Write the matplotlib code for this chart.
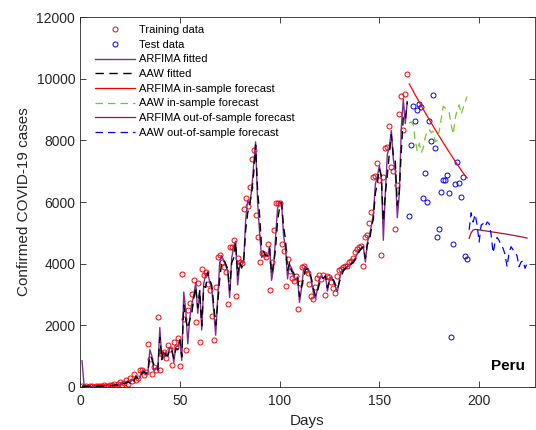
import numpy as np
import matplotlib
matplotlib.use("Agg")
import matplotlib.pyplot as plt

plt.rcParams['font.family'] = ['Liberation Sans', 'DejaVu Sans']

# training data, days 1..164
train_days = list(range(1, 165))
train_cases = [
    30, 10, 20, 15, 25, 30, 10, 35, 20, 40,
    30, 50, 45, 30, 70, 60, 90, 40, 110, 170,
    80, 130, 220, 100, 280, 180, 420, 230, 300, 560,
    550, 380, 480, 1390, 920, 430, 650, 560, 2270, 540,
    1080, 1150, 950, 1350, 1220, 700, 1450, 1300, 1600, 680,
    3680, 2190, 1200, 2490, 2730, 3030, 3480, 2120, 3370, 1470,
    3820, 3620, 3730, 3330, 3160, 2300, 1520, 3250, 4210, 4270,
    4040, 3900, 3740, 2690, 4550, 4550, 4770, 2950, 4170, 4060,
    4010, 5760, 6140, 5870, 6500, 7380, 7700, 5580, 4860, 4040,
    4340, 4300, 4230, 4640, 3160, 4040, 5080, 5980, 5980, 5980,
    4650, 4420, 3280, 4160, 3770, 3530, 3450, 3600, 2520, 3380,
    3880, 3920, 3800, 3690, 3350, 2950, 2840, 3250, 3550, 3620,
    3500, 3620, 2980, 3600, 3580, 3400, 3200, 3060, 3600, 3790,
    3830, 3880, 3920, 3920, 4060, 4100, 4200, 4390, 4470, 4530,
    4570, 3920, 4880, 4930, 5310, 5680, 6800, 6850, 7250, 6700,
    4270, 6800, 7740, 7770, 8460, 7120, 7010, 5110, 6540, 8870,
    9440, 8320, 9500, 10150,
]

arfima_fit = [
    850, 90, 20, 20, 20, 20, 30, 10, 30, 20,
    40, 30, 50, 50, 30, 60, 60, 80, 50, 100,
    160, 100, 120, 200, 120, 240, 200, 370, 270, 290,
    510, 550, 410, 460, 1210, 1010, 530, 610, 580, 1930,
    890, 970, 1140, 990, 1270, 1250, 800, 1300, 1330, 1540,
    860, 3080, 2490, 1400, 2230, 2680, 2970, 3390, 2390, 3120,
    1850, 3350, 3660, 3710, 3410, 3190, 2470, 1680, 2900, 4020,
    4260, 4090, 3930, 3770, 2900, 4180, 4550, 4730, 3310, 3930,
    4080, 4020, 5410, 6060, 5920, 6370, 7200, 7950, 6000, 5000,
    4200, 4280, 4310, 4240, 4560, 3460, 3860, 4870, 5800, 5980,
    5980, 4920, 4470, 3510, 3980, 3850, 3580, 3470, 3570, 2740,
    3210, 3780, 3910, 3820, 3710, 3420, 3030, 2860, 3170, 3490,
    3610, 3520, 3600, 3110, 3480, 3580, 3440, 3240, 3090, 3490,
    3750, 3820, 3870, 3910, 3920, 4030, 4090, 4180, 4350, 4450,
    4520, 4560, 4050, 4690, 4920, 5230, 5610, 6580, 6840, 7170,
    6810, 4760, 6290, 7550, 7760, 8320, 7390, 7030, 5490, 6250,
    8400, 9330, 8540, 9260,
]

aaw_fit = [
    20, 20, 20, 20, 20, 20, 25, 20, 25, 25,
    30, 35, 40, 45, 40, 50, 55, 70, 60, 85,
    130, 110, 130, 170, 130, 230, 180, 340, 260, 310,
    440, 500, 450, 470, 1010, 920, 720, 660, 550, 1610,
    890, 1210, 1020, 1020, 1230, 1200, 930, 1250, 1210, 1510,
    980, 2660, 2190, 1900, 2170, 2370, 2860, 3240, 2570, 3140,
    1980, 3260, 3230, 3730, 3470, 3300, 2680, 2010, 2710, 3480,
    4060, 4120, 4000, 3830, 3140, 4020, 4180, 4690, 3630, 4050,
    3860, 4050, 5070, 5630, 5900, 6300, 6900, 7850, 6360, 5570,
    4510, 4380, 4260, 4260, 4490, 3670, 3980, 4490, 5410, 5800,
    5980, 5190, 4780, 3780, 4030, 3750, 3710, 3530, 3560, 2930,
    3250, 3510, 3800, 3840, 3760, 3510, 3180, 2960, 3110, 3350,
    3540, 3530, 3600, 3210, 3480, 3460, 3480, 3320, 3160, 3410,
    3600, 3770, 3850, 3890, 3910, 4000, 4050, 4150, 4290, 4400,
    4490, 4540, 4170, 4630, 4720, 5140, 5460, 6280, 6610, 7080,
    6840, 5360, 6270, 6860, 7570, 8180, 7520, 7320, 5890, 6340,
    7650, 8750, 8650, 9250,
]

# test data and in-sample forecasts, days 165..194
test_days = list(range(165, 195))
test_cases = [
    5560, 7840, 9110, 8640, 9000, 9180, 9090, 6130, 6950, 6000,
    8620, 7980, 9480, 7740, 4880, 5110, 6310, 6710, 6710, 6870,
    6280, 1610, 4630, 6580, 7300, 6610, 6170, 6800, 4250, 4160,
]
arfima_in = [
    9830, 9710, 9590, 9470, 9355, 9240, 9125, 9010, 8895, 8785,
    8675, 8565, 8455, 8345, 8240, 8135, 8030, 7925, 7820, 7720,
    7620, 7520, 7420, 7320, 7225, 7130, 7035, 6940, 6845, 6780,
]
aaw_in = [
    8560, 8600, 8500, 8000, 7650, 7900, 7600, 7750, 8100, 8300,
    8350, 8250, 8300, 7950, 8000, 8300, 8700, 9100, 9050, 8950,
    8900, 8500, 8200, 8700, 9000, 9150, 8850, 9050, 9250, 9420,
]

# out-of-sample forecasts, days 195..224
out_days = list(range(195, 225))
arfima_out = [
    4820, 5000, 5090, 5110, 5105, 5095, 5085, 5075, 5065, 5055,
    5045, 5035, 5025, 5015, 5005, 4995, 4985, 4975, 4965, 4955,
    4945, 4930, 4920, 4910, 4895, 4885, 4870, 4860, 4845, 4830,
]
aaw_out = [
    5100, 5650, 5350, 5600, 5250, 4700, 5250, 5300, 5200, 5350,
    5300, 4950, 4350, 4700, 4850, 4750, 4600, 4500, 4300, 3900,
    4350, 4550, 4450, 4400, 4250, 3900, 4050, 4100, 3850, 4000,
]

fig = plt.figure(figsize=(5.36, 4.30), dpi=100)
ax = fig.add_axes([80 / 536, 43 / 430, 455 / 536, 370 / 430])

purple = (0.494, 0.184, 0.556)
green = (0.466, 0.774, 0.188)
maroon = (0.635, 0.078, 0.184)
axis_grey = (0.15, 0.15, 0.15)

ax.plot(train_days, train_cases, 'o', mfc='none', mec='red', ms=3.6, mew=0.7,
        label='Training data')
ax.plot(test_days, test_cases, 'o', mfc='none', mec='blue', ms=3.6, mew=0.7,
        label='Test data')
ax.plot(train_days, arfima_fit, '-', color=purple, lw=1.0, label='ARFIMA fitted')
ax.plot(train_days, aaw_fit, '--', color='black', lw=1.0, dashes=(6, 4),
        label='AAW fitted')
ax.plot(test_days, arfima_in, '-', color='red', lw=0.9,
        label='ARFIMA in-sample forecast')
ax.plot(test_days, aaw_in, '--', color=green, lw=0.9, dashes=(6, 4),
        label='AAW in-sample forecast')
ax.plot(out_days, arfima_out, '-', color=maroon, lw=0.9,
        label='ARFIMA out-of-sample forecast')
ax.plot(out_days, aaw_out, '--', color='blue', lw=0.9, dashes=(6, 4),
        label='AAW out-of-sample forecast')

ax.set_xlim(0, 228)
ax.set_ylim(0, 12000)
ax.set_xticks([0, 50, 100, 150, 200])
ax.set_yticks(range(0, 12001, 2000))
ax.tick_params(direction='in', top=True, right=True, labelsize=10,
               colors=axis_grey, length=4, width=0.6)
ax.tick_params(axis='x', pad=5)
for s in ax.spines.values():
    s.set_color(axis_grey)
    s.set_linewidth(0.6)

ax.set_xlabel('Days', fontsize=11, color=axis_grey, labelpad=4)
ax.set_ylabel('Confirmed COVID-19 cases', fontsize=11, color=axis_grey)

ax.legend(loc='upper left', frameon=False, fontsize=8, handlelength=3.6,
          handletextpad=0.36, labelspacing=0.42, borderaxespad=0,
          bbox_to_anchor=(0.023, 0.99))

ax.text(0.978, 0.057, 'Peru', transform=ax.transAxes, ha='right', va='center',
        fontsize=11, fontweight='bold')

fig.savefig('out.png', dpi=100)
